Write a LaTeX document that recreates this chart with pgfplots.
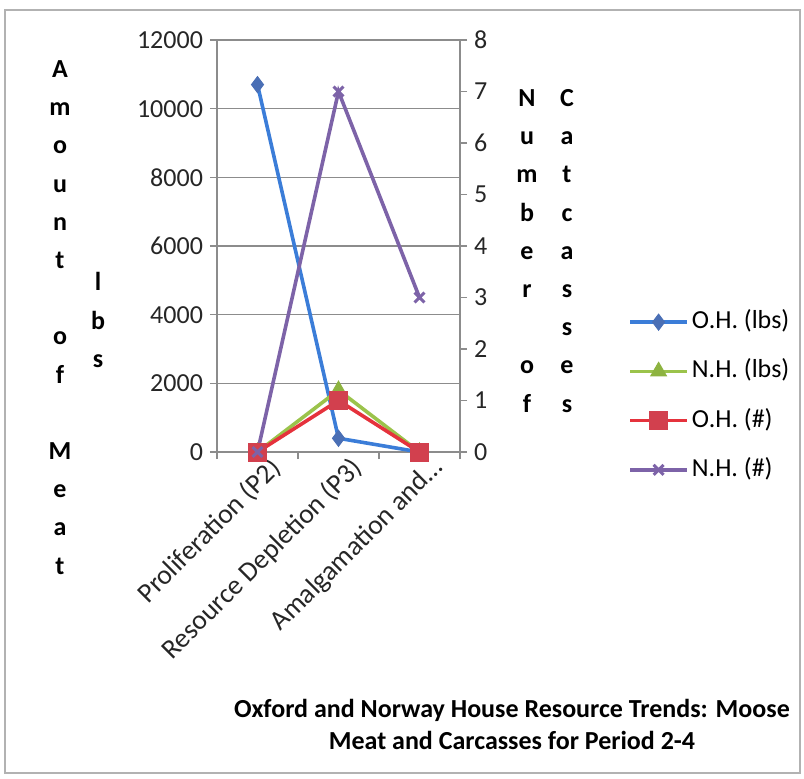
\documentclass[border=0pt]{standalone}
\usepackage{pgfplots}
\pgfplotsset{compat=1.18}
\usepackage{fontspec}
\setmainfont{Carlito}
\definecolor{gridgray}{HTML}{8C8C8C}
\definecolor{bline}{HTML}{3B7DD8}
\definecolor{bmark}{HTML}{4A6FB5}
\definecolor{gline}{HTML}{9BC34B}
\definecolor{gmark}{HTML}{8DB340}
\definecolor{rline}{HTML}{E5323C}
\definecolor{rmark}{HTML}{D2404E}
\definecolor{pline}{HTML}{7D63A8}
\pgfplotsset{
  ohlbs/.style={color=bline, line width=1.8pt, mark=diamond*, mark size=4pt, mark options={fill=bmark, draw=bmark, line width=0.5pt}},
  nhlbs/.style={color=gline, line width=1.8pt, mark=triangle*, mark size=4.5pt, mark options={fill=gmark, draw=gmark, line width=0.5pt}},
  ohnum/.style={color=rline, line width=1.8pt, mark=square*, mark size=4.5pt, mark options={fill=rmark, draw=rmark, line width=0.5pt}},
  nhnum/.style={color=pline, line width=1.8pt, mark=x, mark size=3.5pt, mark options={draw=pline, line width=1.5pt}},
  common/.style={scale only axis, width=121.5pt, height=206pt, at={(108.5pt,163pt)}, anchor=south west,
    xmin=-0.5, xmax=2.5, tick align=outside, major tick length=3.5pt,
    tick style={gridgray, line width=0.7pt}, axis line style={gridgray, line width=0.7pt},
    ticklabel style={font=\fontsize{13}{15}\selectfont, text=black!85},
    scaled y ticks=false,
    /pgf/number format/assume math mode=true, /pgf/number format/1000 sep={}, clip=false},
}
\begin{document}
\begin{tikzpicture}[font=\fontsize{13}{15}\selectfont]
\path[use as bounding box] (0,0) rectangle (402pt,389pt);
\draw[color=black!30, line width=0.8pt] (2.5pt,2.5pt) rectangle (400pt,384pt);
\begin{axis}[common,
  axis lines*=left,
  ymin=0, ymax=12000, ytick={0,2000,4000,6000,8000,10000,12000},
  ymajorgrids, grid style={gridgray, line width=0.7pt},
  xtick={-0.5,0.5,1.5,2.5}, xticklabels={},
  extra x ticks={0,1,2},
  extra x tick labels={{Proliferation (P2)},{Resource Depletion (P3)},{Amalgamation and\ldots}},
  extra x tick style={major tick length=0pt, tick style={draw=none}, tick label style={rotate=45, anchor=east, xshift=6pt, yshift=-11pt, font=\fontsize{13.8}{15}\selectfont}},
]
\addplot[ohlbs] coordinates {(0,10700) (1,400) (2,0)};
\addplot[nhlbs] coordinates {(0,0) (1,1800) (2,0)};
\end{axis}
\begin{axis}[common,
  ymin=0, ymax=8, ytick={0,1,2,3,4,5,6,7,8},
  axis y line*=right, axis x line=none,
  legend style={at={(1.691,0.136)}, anchor=west, draw=none, fill=none, inner sep=0pt,
    font=\fontsize{13}{15}\selectfont, row sep=11.6pt, column sep=0pt,
    nodes={text height=9.75pt, text depth=3.25pt, inner ysep=0pt, inner xsep=1.5pt}},
  legend cell align=left,
  legend image code/.code={\draw[mark repeat=2,mark phase=2,#1,line width=1.8pt] plot coordinates {(0pt,0pt) (14.25pt,0pt) (28.5pt,0pt)};},
]
\addlegendimage{ohlbs}
\addlegendentry{O.H. (lbs)}
\addlegendimage{nhlbs}
\addlegendentry{N.H. (lbs)}
\addplot[ohnum] coordinates {(0,0) (1,1) (2,0)};
\addlegendentry{O.H. (\#)}
\addplot[nhnum] coordinates {(0,0) (1,7) (2,3)};
\addlegendentry{N.H. (\#)}
\end{axis}
\foreach \ch [count=\i from 0] in {A,m,o,u,n,t,{},o,f,{},M,e,a,t}
  \node[anchor=base, font=\fontsize{13}{15}\selectfont\bfseries, inner sep=0pt] at ({30pt},{350.25pt-19.1pt*\i}) {\ch};
\foreach \ch [count=\i from 0] in {l,b,s}
  \node[anchor=base, font=\fontsize{13}{15}\selectfont\bfseries, inner sep=0pt] at ({49pt},{243.5pt-19.1pt*\i}) {\ch};
\foreach \ch [count=\i from 0] in {N,u,m,b,e,r,{},o,f}
  \node[anchor=base, font=\fontsize{13}{15}\selectfont\bfseries, inner sep=0pt] at ({263.5pt},{335.75pt-19.1pt*\i}) {\ch};
\foreach \ch [count=\i from 0] in {C,a,t,c,a,s,s,e,s}
  \node[anchor=base, font=\fontsize{13}{15}\selectfont\bfseries, inner sep=0pt] at ({283.5pt},{335.75pt-19.1pt*\i}) {\ch};
\node[anchor=base, font=\fontsize{13}{15}\selectfont\bfseries] at (256pt,30.5pt) {Oxford and Norway House Resource Trends: Moose};
\node[anchor=base, font=\fontsize{13}{15}\selectfont\bfseries] at (256pt,14.5pt) {Meat and Carcasses for Period 2-4};
\end{tikzpicture}
\end{document}
